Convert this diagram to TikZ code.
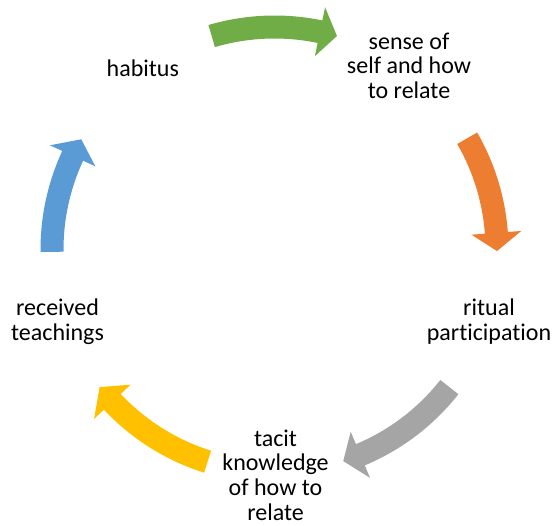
\documentclass[tikz,border=0pt]{standalone}
\usepackage{fontspec}
\setmainfont{Carlito}[RawFeature={-liga}]

\definecolor{cycGreen}{HTML}{70AD47}
\definecolor{cycOrange}{HTML}{ED7D31}
\definecolor{cycGray}{HTML}{A5A5A5}
\definecolor{cycYellow}{HTML}{FFC000}
\definecolor{cycBlue}{HTML}{5B9BD5}

% Curved block arrow on the cycle ring.
% #1 colour, #2 tail angle, #3 angle of the head's base, #4 angle of the tip
\newcommand\cyclearrow[4]{%
  \fill[#1] (#2:234) arc[start angle=#2, end angle=#3, radius=234]
    -- (#3:247.5) -- (#4:222.5) -- (#3:197.5) -- (#3:211)
    arc[start angle=#3, end angle=#2, radius=211] -- cycle;}

\tikzset{
  cyclabel/.style={font=\fontsize{18}{18.5}\selectfont, anchor=base,
    inner sep=0pt, text=black}
}

\begin{document}
\begin{tikzpicture}[x=0.75pt, y=-0.75pt]
  \useasboundingbox (0,0) rectangle (553,525);

  % arrows around the ring (centre of the ring at 274.5, 249.5)
  \begin{scope}[shift={(274.5,249.5)}]
    \cyclearrow{cycGreen}{-106.4}{-78.2}{-73.7}
    \cyclearrow{cycOrange}{-30}{-4.3}{0.4}
    \cyclearrow{cycGray}{38.2}{67.3}{72}
    \cyclearrow{cycYellow}{107.5}{136.8}{141.8}
    \cyclearrow{cycBlue}{-180.6}{-155.1}{-150.3}
  \end{scope}

  % stage labels
  \node[cyclabel] (habitus) at (142.8,76) {habitus};
  \node[cyclabel] (self) at (409,49.3)
    {\begin{tabular}[t]{@{}c@{}}sense of\\self and how\\to relate\end{tabular}};
  \node[cyclabel] (ritual) at (489,315.5)
    {\begin{tabular}[t]{@{}c@{}}ritual\\participation\end{tabular}};
  \node[cyclabel] (tacit) at (275.5,446.3)
    {\begin{tabular}[t]{@{}c@{}}tacit\\knowledge\\of how to\\relate\end{tabular}};
  \node[cyclabel] (teachings) at (57.5,315.8)
    {\begin{tabular}[t]{@{}c@{}}received\\teachings\end{tabular}};
\end{tikzpicture}
\end{document}
